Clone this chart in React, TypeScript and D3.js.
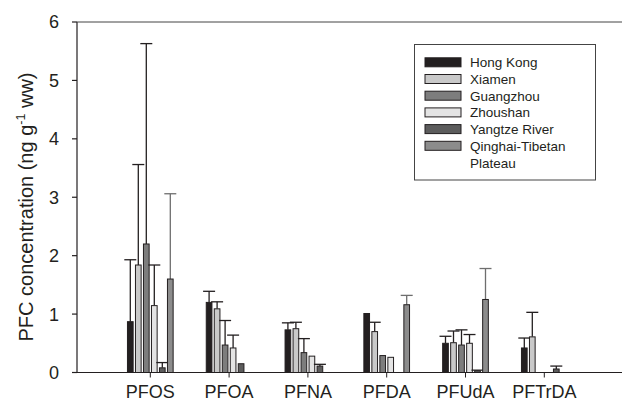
import React from "react";
import * as d3 from "d3";

const categories = ["PFOS", "PFOA", "PFNA", "PFDA", "PFUdA", "PFTrDA"];
const seriesNames = ["Hong Kong", "Xiamen", "Guangzhou", "Zhoushan", "Yangtze River", "Qinghai-Tibetan Plateau"];
const hongKong = [0.87, 1.2, 0.73, 1.01, 0.5, 0.42];
const hongKongSD = [1.06, 0.19, 0.12, null, 0.12, 0.17];
const xiamen = [1.84, 1.09, 0.75, 0.7, 0.51, 0.61];
const xiamenSD = [1.72, 0.12, 0.11, 0.16, 0.2, 0.42];
const guangzhou = [2.2, 0.47, 0.34, 0.29, 0.47, null];
const guangzhouSD = [3.43, 0.42, 0.24, null, 0.26, null];
const zhoushan = [1.145, 0.42, 0.28, 0.26, 0.5, null];
const zhoushanSD = [0.695, 0.22, null, null, 0.15, null];
const yangtze = [0.08, 0.15, 0.11, null, 0.03, 0.06];
const yangtzeSD = [0.09, null, 0.03, null, 0.01, 0.05];
const qinghai = [1.6, null, null, 1.16, 1.25, null];
const qinghaiSD = [1.46, null, null, 0.16, 0.53, null];
const yTicks = [0, 1, 2, 3, 4, 5, 6];

const values = [hongKong, xiamen, guangzhou, zhoushan, yangtze, qinghai];
const sds = [hongKongSD, xiamenSD, guangzhouSD, zhoushanSD, yangtzeSD, qinghaiSD];
const fills = ["#231f20", "#c9c9c9", "#7d7d7d", "#e4e4e4", "#5c5c5c", "#8c8c8c"];
const whiskerColors = ["#231f20", "#231f20", "#231f20", "#231f20", "#231f20", "#6e6e6e"];

const FONT = "'Liberation Sans', Arial, Helvetica, sans-serif";

export default function App() {
  const left = 77, right = 622, top = 22, bottom = 372.5;
  const x = d3.scalePoint<string>().domain(categories).range([150.3, 544.3]);
  const inner = d3.scaleBand<number>().domain(d3.range(6)).range([-24, 24]).paddingInner(0.29).paddingOuter(0.145);
  const y = d3.scaleLinear().domain([0, 6]).range([bottom, top]);
  const bw = inner.bandwidth();
  const capHalf = 6;

  return (
    <svg width={622} height={401} style={{ position: "absolute", left: 0, top: 0, fontFamily: FONT }}>
      <rect width={622} height={401} fill="#fff" />
      {values.map((arr, s) =>
        arr.map((v, i) => {
          if (v == null) return null;
          const cx = (x(categories[i]) as number) + (inner(s) as number);
          const sd = sds[s][i];
          return (
            <g key={`${s}-${i}`}>
              {sd != null && (
                <g stroke={whiskerColors[s]} strokeWidth={1.3}>
                  <line x1={cx + bw / 2} x2={cx + bw / 2} y1={y(v)} y2={y(v + sd)} />
                  <line x1={cx + bw / 2 - capHalf} x2={cx + bw / 2 + capHalf} y1={y(v + sd)} y2={y(v + sd)} />
                </g>
              )}
              <rect x={cx} y={y(v)} width={bw} height={bottom - y(v)} fill={fills[s]} stroke="#231f20" strokeWidth={1} />
            </g>
          );
        })
      )}
      {/* axes */}
      <g stroke="#231f20" strokeWidth={1.2} fill="none">
        <line x1={left} x2={left} y1={top} y2={bottom} />
        <line x1={left} x2={right} y1={bottom} y2={bottom} />
        <line x1={left} x2={right} y1={top} y2={top} strokeWidth={1} stroke="#444" />
        {yTicks.map((t) => (
          <line key={t} x1={left - 5} x2={left} y1={y(t)} y2={y(t)} />
        ))}
        {categories.map((c) => (
          <line key={c} x1={x(c)} x2={x(c)} y1={bottom} y2={bottom + 5} strokeWidth={1} />
        ))}
      </g>
      {yTicks.map((t) => (
        <text key={t} x={left - 18} y={y(t)} dy="0.36em" textAnchor="end" fontSize={18} fill="#231f20">
          {t}
        </text>
      ))}
      {categories.map((c) => (
        <text key={c} x={x(c)} y={397.5} textAnchor="middle" fontSize={18} fill="#231f20">
          {c}
        </text>
      ))}
      <text transform={`translate(33,207) rotate(-90)`} textAnchor="middle" fontSize={20} fill="#231f20">
        PFC concentration (ng g<tspan fontSize={12.5} dy={-8}>-1</tspan>
        <tspan dy={8}> ww)</tspan>
      </text>
      {/* legend */}
      <rect x={414.5} y={44.5} width={181} height={135.5} fill="#fff" stroke="#444" strokeWidth={1} />
      {seriesNames.map((n, s) => {
        const by = 67.3 + s * 16.7;
        return (
          <g key={n}>
            <rect x={425} y={by - 9.5} width={36} height={9} fill={fills[s]} stroke="#231f20" strokeWidth={1} />
            {s < 5 ? (
              <text x={470} y={by} fontSize={13.5} fill="#231f20">{n}</text>
            ) : (
              <text x={470} y={by} fontSize={13.5} fill="#231f20">
                Qinghai-Tibetan
                <tspan x={470} dy={16.7}>Plateau</tspan>
              </text>
            )}
          </g>
        );
      })}
    </svg>
  );
}
